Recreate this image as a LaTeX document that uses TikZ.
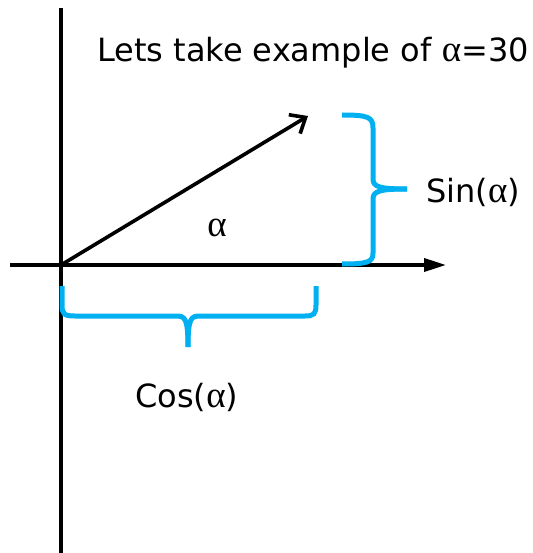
\documentclass[tikz,border=0pt]{standalone}
\usepackage{fontspec}
\setmainfont{DejaVu Sans}
\newfontfamily\grk{Liberation Serif}
\usetikzlibrary{arrows.meta}
\definecolor{bracecol}{RGB}{0,176,240}
\tikzset{
  axis/.style={line width=3.6pt, black},
  brace/.style={line width=5pt, bracecol},
  lbl/.style={inner sep=0pt, font=\fontsize{32}{38}\selectfont}
}
\newcommand{\alp}{{\grk\fontsize{37}{38}\selectfont α}}
\begin{document}
\begin{tikzpicture}[x=1pt,y=-1pt]
\useasboundingbox[fill=white] (0,0) rectangle (532,553);
% coordinates
\coordinate (O) at (61,265);
\coordinate (ytop) at (61,8);
\coordinate (ybot) at (61,553);
\coordinate (xl) at (10,265);
\coordinate (xr) at (446,265);
\coordinate (vtip) at (308,116);
% axes
\draw[axis] (ytop) -- (ybot);
\draw[axis, -{Triangle[length=22pt,width=13pt]}] (xl) -- (xr);
\draw[axis, -{Straight Barb[length=13pt,width=22pt,line width=3.6pt]}] (O) -- (vtip);
% braces
\draw[brace] (342,115) .. controls (368,115) and (373,117) .. (373,128) -- (373,179)
  .. controls (373,187) and (380,189) .. (407,189);
\draw[brace] (407,189) .. controls (380,189) and (373,191) .. (373,199) -- (373,253)
  .. controls (373,262) and (368,264) .. (342,264);
\draw[brace] (62,286) -- (62,305) .. controls (62,314) and (64,316) .. (75,316) -- (176,316)
  .. controls (185,316) and (188,318) .. (188,347);
\draw[brace] (188,347) .. controls (188,318) and (191,316) .. (200,316) -- (305,316)
  .. controls (314,316) and (316,314) .. (316,305) -- (316,286);
% labels
\node[lbl, anchor=base west] (title) at (97,62) {Lets take example of \alp=30};
\node[lbl] (alpha) at (217,228) {\alp};
\node[lbl, anchor=base west] (sin) at (426,202) {Sin(\alp)};
\node[lbl, anchor=base west] (cos) at (135,407) {Cos(\alp)};
\end{tikzpicture}
\end{document}
